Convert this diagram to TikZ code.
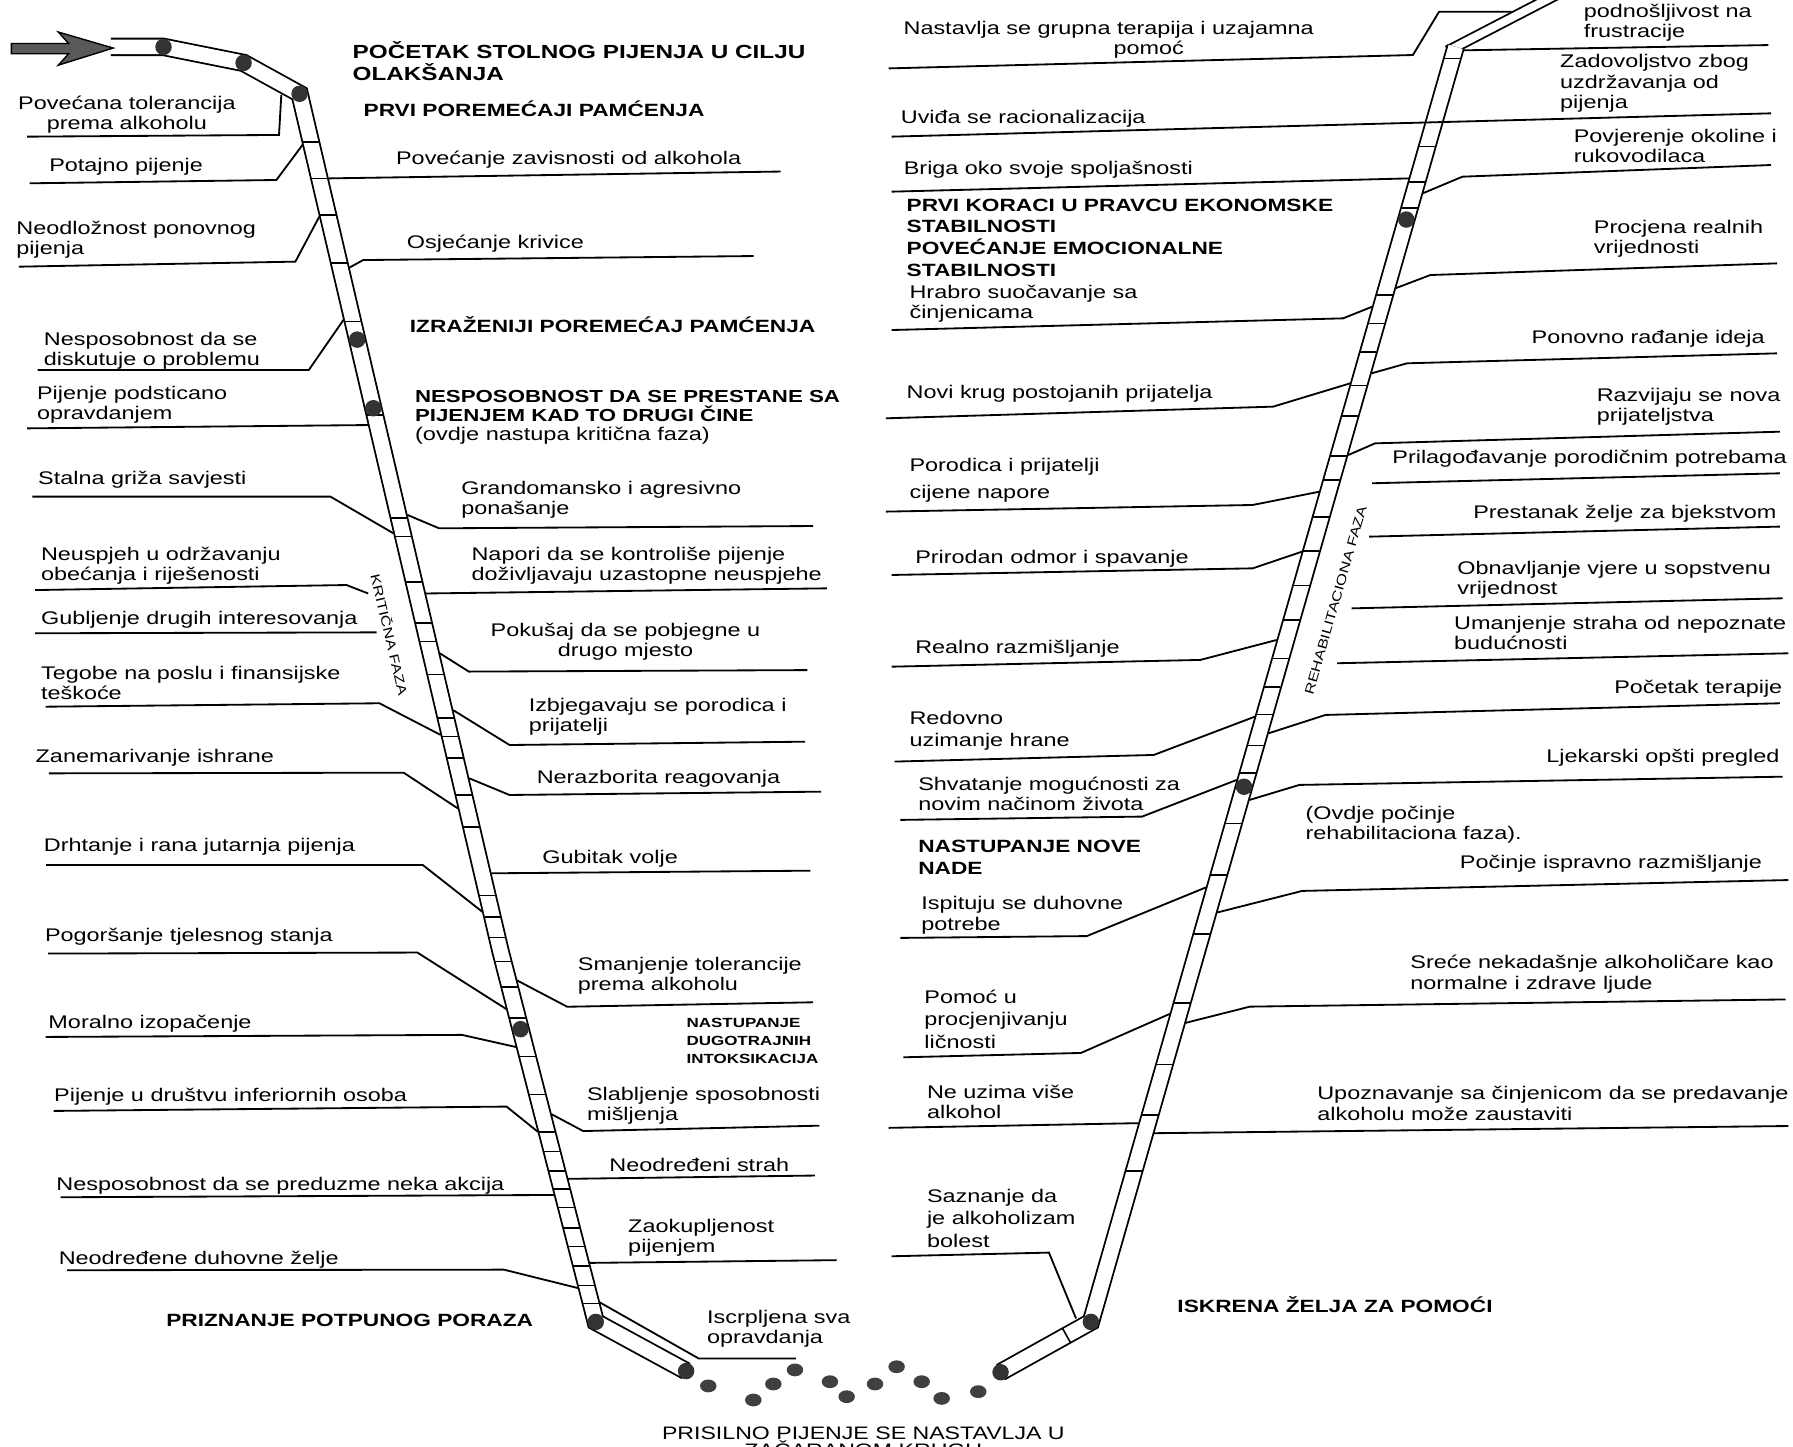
\documentclass[tikz,border=0pt]{standalone}
\usepackage{fontspec}
\setmainfont{Liberation Sans}[FakeStretch=1.28]
\setsansfont{Liberation Sans}[FakeStretch=1.28]
\usetikzlibrary{calc}

\newcommand{\leadA}[3]{\draw[lead] ($(L3)!{(#1-82)/749}!(Lm)+(#2,0)$) #3;}
\newcommand{\leadB}[3]{\draw[lead] ($(Lm)!{(#1-831)/325}!(L4)+(#2,0)$) #3;}
\newcommand{\leadR}[3]{\draw[lead] ($(R3)!{(#1-41)/1115}!(R4)+(#2,0)$) #3;}

\begin{document}
\begin{tikzpicture}[x=0.5pt, y=-0.5pt, font=\sffamily]
	\tikzstyle{pipe}=[draw=black, line width=0.8pt, double=white, double distance=6.4pt, line join=miter]
	\tikzstyle{rung}=[line width=0.7pt]
	\tikzstyle{lead}=[line width=0.8pt]
	\tikzstyle{blob}=[fill=black!80]
	\tikzstyle{dot}=[fill=black!75]
	\tikzstyle{lbl}=[inner sep=0pt, anchor=west, align=left, font=\fontsize{8}{8.8}\selectfont]
	\tikzstyle{head}=[lbl, font=\bfseries\fontsize{7.75}{9.5}\selectfont]
	\tikzstyle{phase}=[inner sep=0pt, font=\fontsize{5.7}{7}\selectfont]
	\useasboundingbox (0,0) rectangle (1568,1265.4);
	\fill[white] (0,0) rectangle (1568,1265.4);
	\coordinate (L0) at (97,41);
	\coordinate (L1) at (143,41);
	\coordinate (L2) at (213,55);
	\coordinate (L3) at (262,82);
	\coordinate (Lm) at (437.5,831);
	\coordinate (L4) at (521,1156);
	\coordinate (L5) at (600,1199);
	\coordinate (R5) at (875,1200);
	\coordinate (R4) at (954,1156);
	\coordinate (R3) at (1273,41);
	\coordinate (Rt) at (1381,-15);
	\draw[pipe] (L0) -- (L1) -- (L2) -- (L3) -- (Lm) -- (L4) -- (L5);
	\draw[pipe, double distance=3.4pt] ($(R3)!-4pt!(Rt)$) -- (Rt);
	\draw[pipe] (R5) -- (R4) -- (R3);
	\filldraw[fill=black!65, draw=black, line width=0.6pt] (10,38) -- (60,38) -- (51,28) -- (99,42) -- (51,57) -- (60,47) -- (10,47) -- cycle;
	\foreach \y in {124,156,188,230,281,363,453,469,509,545,561,590,628,644,663,695,723,783,802,820}
		\draw[rung] ($(L3)!{(\y-82)/749}!(Lm)+(-7,0)$) -- ++(14,0);
	\foreach \y in {841,863,890,924,957,990,1007,1024,1040,1056,1074,1090,1107,1124,1140}
		\draw[rung] ($(Lm)!{(\y-831)/325}!(L4)+(-7,0)$) -- ++(14,0);
	\foreach \y in {51,128,159,182,258,283,308,337,364,399,420,452,482,512,542,576,601,625,652,676,720,765,817,877,931,975,1024}
		\draw[rung] ($(R3)!{(\y-41)/1115}!(R4)+(-7,0)$) -- ++(14,0);
	\coordinate (rr) at ($(R4)!0.27!(R5)$);
	\draw[rung] ($(rr)!3.5pt!90:(R5)$) -- ($(rr)!3.5pt!-90:(R5)$);
	\foreach \p in {L1,L2,L3,L4,L5,R4,R5}
		\fill[blob] (\p) circle[radius=3.6pt];
	\fill[blob] ($(L3)!{(297-82)/749}!(Lm)$) circle[radius=3.6pt];
	\fill[blob] ($(L3)!{(357-82)/749}!(Lm)$) circle[radius=3.6pt];
	\fill[blob] ($(Lm)!{(900-831)/325}!(L4)$) circle[radius=3.6pt];
	\fill[blob] ($(R3)!{(192-41)/1115}!(R4)$) circle[radius=3.6pt];
	\fill[blob] ($(R3)!{(688-41)/1115}!(R4)$) circle[radius=3.6pt];
	\foreach \x/\y in {619.4/1212,658.8/1224.3,676.3/1210.3,695.2/1198,725.8/1208.3,740.4/1221.4,765.2/1210.3,784.1/1195.2,806/1208.3,823.5/1222.9,855.5/1217}
		\fill[dot] (\x,\y) ellipse[x radius=3.6pt, y radius=2.8pt];

	\node[lbl, anchor=center, align=center] (tolerancija) at (111,100.6) {Povećana tolerancija\\prema alkoholu};
	\node[lbl] (potajno) at (42.7,145.8) {Potajno pijenje};
	\node[lbl] (neodloznost) at (14,209.8) {Neodložnost ponovnog\\pijenja};
	\node[lbl] (diskusija) at (38,306.8) {Nesposobnost da se\\diskutuje o problemu};
	\node[lbl] (opravdanje) at (32,354.2) {Pijenje podsticano\\opravdanjem};
	\node[lbl] (griza) at (33,419.7) {Stalna griža savjesti};
	\node[lbl] (obecanja) at (35.5,494.8) {Neuspjeh u održavanju\\obećanja i riješenosti};
	\node[lbl] (interesi) at (35.5,542) {Gubljenje drugih interesovanja};
	\node[lbl] (tegobe) at (35.5,597.6) {Tegobe na poslu i finansijske\\teškoće};
	\node[lbl] (ishrana) at (30.8,663) {Zanemarivanje ishrane};
	\node[lbl] (drhtanje) at (38,740.4) {Drhtanje i rana jutarnja pijenja};
	\node[lbl] (tijelo) at (39,819.2) {Pogoršanje tjelesnog stanja};
	\node[lbl] (moral) at (42,895.6) {Moralno izopačenje};
	\node[lbl] (drustvo) at (47,958.9) {Pijenje u društvu inferiornih osoba};
	\node[lbl] (akcija) at (49,1036.8) {Nesposobnost da se preduzme neka akcija};
	\node[lbl] (zelje) at (51,1101.4) {Neodređene duhovne želje};
	\node[head] (poraz) at (145,1154.4) {PRIZNANJE POTPUNOG PORAZA};

	\node[head, font=\bfseries\fontsize{8.3}{9.5}\selectfont] (pocetak) at (308,53.2) {POČETAK STOLNOG PIJENJA U CILJU\\OLAKŠANJA};
	\node[head] (pamcenje) at (317.6,94.7) {PRVI POREMEĆAJI PAMĆENJA};
	\node[lbl] (zavisnost) at (346,140) {Povećanje zavisnosti od alkohola};
	\node[lbl] (krivica) at (355.5,212.8) {Osjećanje krivice};
	\node[head] (pamcenje2) at (358,284.2) {IZRAŽENIJI POREMEĆAJ PAMĆENJA};
	\node[lbl, font=\fontsize{8.05}{8.4}\selectfont] (prestanak) at (362.6,365) {\textbf{\fontsize{7.6}{8.4}\selectfont NESPOSOBNOST DA SE PRESTANE SA}\\\textbf{\fontsize{7.6}{8.4}\selectfont PIJENJEM KAD TO DRUGI ČINE}\\(ovdje nastupa kritična faza)};
	\node[lbl] (grandoman) at (403,437.3) {Grandomansko i agresivno\\ponašanje};
	\node[lbl] (napori) at (412,494.8) {Napori da se kontroliše pijenje\\doživljavaju uzastopne neuspjehe};
	\node[lbl, anchor=center, align=center] (bijeg) at (547,561.2) {Pokušaj da se pobjegne u\\drugo mjesto};
	\node[lbl] (porodica) at (462,626.8) {Izbjegavaju se porodica i\\prijatelji};
	\node[lbl] (reagovanje) at (469,680.6) {Nerazborita reagovanja};
	\node[lbl] (volja) at (474,750.6) {Gubitak volje};
	\node[lbl] (tolerancija2) at (505,853) {Smanjenje tolerancije\\prema alkoholu};
	\node[head, font=\bfseries\fontsize{5.8}{8}\selectfont] (intoks) at (600,910.3) {NASTUPANJE\\DUGOTRAJNIH\\INTOKSIKACIJA};
	\node[lbl] (misljenje) at (513,967) {Slabljenje sposobnosti\\mišljenja};
	\node[lbl] (strah) at (532.6,1019) {Neodređeni strah};
	\node[lbl] (zaokupljenost) at (549,1082.3) {Zaokupljenost\\pijenjem};
	\node[lbl] (iscrpljena) at (618,1162.2) {Iscrpljena sva\\opravdanja};
	\node[lbl, anchor=north, align=center, font=\fontsize{7.9}{7.4}\selectfont] (krug) at (755,1247.5) {PRISILNO PIJENJE SE NASTAVLJA U\\ZAČARANOM KRUGU};
	\node[phase, rotate=-76.8] (kriticna) at (341,555) {KRITIČNA FAZA};

	\node[lbl, anchor=center, align=center] (grupa) at (969.5,35) {Nastavlja se grupna terapija i uzajamna\\\hspace*{35pt}pomoć};
	\node[lbl] (racionalizacija) at (787.4,103.5) {Uviđa se racionalizacija};
	\node[lbl] (briga) at (790,148.7) {Briga oko svoje spoljašnosti};
	\node[head] (stabilnost) at (792.5,207.7) {PRVI KORACI U PRAVCU EKONOMSKE\\STABILNOSTI\\POVEĆANJE EMOCIONALNE\\STABILNOSTI};
	\node[lbl] (hrabro) at (795,265.3) {Hrabro suočavanje sa\\činjenicama};
	\node[lbl] (prijatelji) at (792.5,344) {Novi krug postojanih prijatelja};
	\node[lbl] (napore) at (795,419.7) {Porodica i prijatelji\\[3pt]cijene napore};
	\node[lbl] (odmor) at (800,488.2) {Prirodan odmor i spavanje};
	\node[lbl] (realno) at (800,567) {Realno razmišljanje};
	\node[lbl] (hrana) at (795,639) {Redovno\\[1pt]uzimanje hrane};
	\node[lbl] (shvatanje) at (802.7,694.5) {Shvatanje mogućnosti za\\novim načinom života};
	\node[head] (nada) at (802.7,749.9) {NASTUPANJE NOVE\\NADE};
	\node[lbl] (duhovne) at (805.3,800.4) {Ispituju se duhovne\\potrebe};
	\node[lbl] (procjena) at (808,891.4) {Pomoć u\\[1pt]procjenjivanju\\[1pt]ličnosti};
	\node[lbl] (alkohol) at (810.3,963.3) {Ne uzima više\\alkohol};
	\node[lbl] (bolest) at (810.3,1065.3) {Saznanje da\\[1pt]je alkoholizam\\[1pt]bolest};
	\node[head] (pomoc) at (1029.3,1141.3) {ISKRENA ŽELJA ZA POMOĆI};
	\node[lbl] (ovdje) at (1141.4,721.5) {(Ovdje počinje\\rehabilitaciona faza).};
	\node[phase, rotate=74] (rehab) at (1168,525) {REHABILITACIONA FAZA};

	\node[lbl] (frustracije) at (1384.6,19.7) {podnošljivost na\\frustracije};
	\node[lbl] (zadovoljstvo) at (1364,72.9) {Zadovoljstvo zbog\\uzdržavanja od\\pijenja};
	\node[lbl] (povjerenje) at (1375.9,127.5) {Povjerenje okoline i\\rukovodilaca};
	\node[lbl] (vrijednosti) at (1393.5,208.5) {Procjena realnih\\vrijednosti};
	\node[lbl, anchor=east] (ideje) at (1543.7,295.9) {Ponovno rađanje ideja};
	\node[lbl] (prijateljstva) at (1396,355.7) {Razvijaju se nova\\prijateljstva};
	\node[lbl, anchor=east] (potrebe) at (1563,400.8) {Prilagođavanje porodičnim potrebama};
	\node[lbl, anchor=east] (bjekstvo) at (1554,448.9) {Prestanak želje za bjekstvom};
	\node[lbl] (vjera) at (1274,507.2) {Obnavljanje vjere u sopstvenu\\vrijednost};
	\node[lbl] (buducnost) at (1271.3,553.8) {Umanjenje straha od nepoznate\\budućnosti};
	\node[lbl, anchor=east] (terapija) at (1559,602) {Početak terapije};
	\node[lbl, anchor=east] (pregled) at (1556.5,663) {Ljekarski opšti pregled};
	\node[lbl, anchor=east] (ispravno) at (1541.2,755) {Počinje ispravno razmišljanje};
	\node[lbl] (bivsi) at (1233,851.9) {Sreće nekadašnje alkoholičare kao\\normalne i zdrave ljude};
	\node[lbl] (zaustaviti) at (1151.6,964.9) {Upoznavanje sa činjenicom da se predavanje\\alkoholu može zaustaviti};

	\draw[lead] (23.7,119.5) -- (244,118) -- (246,83);
	\leadA{126.8}{-8}{-- (241.7,157.4) -- (26,160.3)}
	\leadA{189.5}{-8}{-- (258.3,228.8) -- (16.6,233.2)}
	\leadA{279.8}{-8}{-- (270,323.6) -- (33,323.6)}
	\leadA{371.7}{-8}{-- (23.7,374.6)}
	\leadA{466.4}{-8}{-- (289,434.3) -- (28.4,434.3)}
	\draw[lead] (30.8,516) -- (303,511.6) -- (322,519);
	\draw[lead] (30.8,553.8) -- (329.4,553);
	\leadA{642.7}{-8}{-- (331.8,615) -- (40,618)}
	\leadA{707}{-8}{-- (353,675.7) -- (42.7,676.3)}
	\leadA{797.2}{-8}{-- (369.7,756.4) -- (40.3,756.4)}
	\leadB{882.4}{-8}{-- (365,833) -- (42,833.9)}
	\leadB{915.6}{-8}{-- (404,905) -- (40,906.8)}
	\leadB{989.7}{-8}{-- (443,967.7) -- (47,971.5)}
	\leadB{1045}{-8}{-- (53,1047)}
	\leadB{1126.4}{-8}{-- (440.6,1110.3) -- (58.6,1110.8)}

	\leadA{156}{8}{-- (682.6,150)}
	\leadA{234}{8}{-- (317.6,227.4) -- (659,223.9)}
	\leadA{450.3}{8}{-- (384,462) -- (711,460)}
	\leadA{519}{8}{-- (723,514.5)}
	\leadA{571.3}{8}{-- (410,587.3) -- (706,586)}
	\leadA{621}{8}{-- (445.6,651.5) -- (704,648.6)}
	\leadA{680.6}{8}{-- (445.6,695.2) -- (718,692.3)}
	\leadA{763.7}{8}{-- (708.6,761.4)}
	\leadB{857.4}{8}{-- (496,880.4) -- (711,876.5)}
	\leadB{974.4}{8}{-- (510,989.1) -- (716.6,984.4)}
	\leadB{1030.9}{8}{-- (712.7,1028)}
	\leadB{1104.4}{8}{-- (731.7,1102)}
	\leadB{1139}{8}{-- (611,1188) -- (696,1188)}

	\draw[lead] (777.2,59.8) -- (1235.6,48.1) -- (1258.5,10.2) -- (1322,10.2);
	\draw[lead] (779.8,119.5) -- (1548.8,99.1);
	\leadR{156}{-8}{-- (779.8,167.6)}
	\leadR{268.2}{-8}{-- (1174.5,278.4) -- (779.8,288.6)}
	\leadR{335.2}{-8}{-- (1113.4,355.6) -- (774.7,365.8)}
	\leadR{430}{-8}{-- (1095.5,441.6) -- (774.7,447.4)}
	\leadR{482.4}{-8}{-- (1095.5,497) -- (779.8,502.8)}
	\leadR{559.6}{-8}{-- (1049.7,577.1) -- (779.8,583)}
	\leadR{626.7}{-8}{-- (1009,660.2) -- (782.3,666)}
	\leadR{682}{-8}{-- (998.8,714.1) -- (787.4,717)}
	\leadR{776}{-8}{-- (950.4,818.6) -- (787.4,820.2)}
	\leadR{886.6}{-8}{-- (945.3,920.8) -- (790,924.6)}
	\leadR{982.2}{-8}{-- (777.2,986.3)}
	\draw[lead] (941,1153) -- (917.3,1095.4) -- (779.8,1098.6);

	\leadR{44}{8}{-- (1546.4,39.4)}
	\leadR{169}{8}{-- (1278.9,154.5) -- (1548.8,144.3)}
	\leadR{252}{8}{-- (1250.9,240.5) -- (1554,230.3)}
	\leadR{326.5}{8}{-- (1230.5,317.7) -- (1554,309)}
	\leadR{398}{8}{-- (1202.5,387.7) -- (1556.5,377.5)}
	\draw[lead] (1200,422.6) -- (1556.5,413.9);
	\draw[lead] (1197.4,469.3) -- (1556.5,460.5);
	\draw[lead] (1182,532) -- (1559,523.2);
	\draw[lead] (1169.4,580) -- (1564,571.3);
	\leadR{641.3}{8}{-- (1159.2,625.2) -- (1556.5,615)}
	\leadR{699.6}{8}{-- (1136.3,686.4) -- (1559,679.2)}
	\leadR{798}{8}{-- (1138.8,779.1) -- (1564,769.6)}
	\leadR{894.5}{8}{-- (1093,880.3) -- (1561.6,874)}
	\leadR{991}{8}{-- (1564,984.7)}
\end{tikzpicture}
\end{document}
